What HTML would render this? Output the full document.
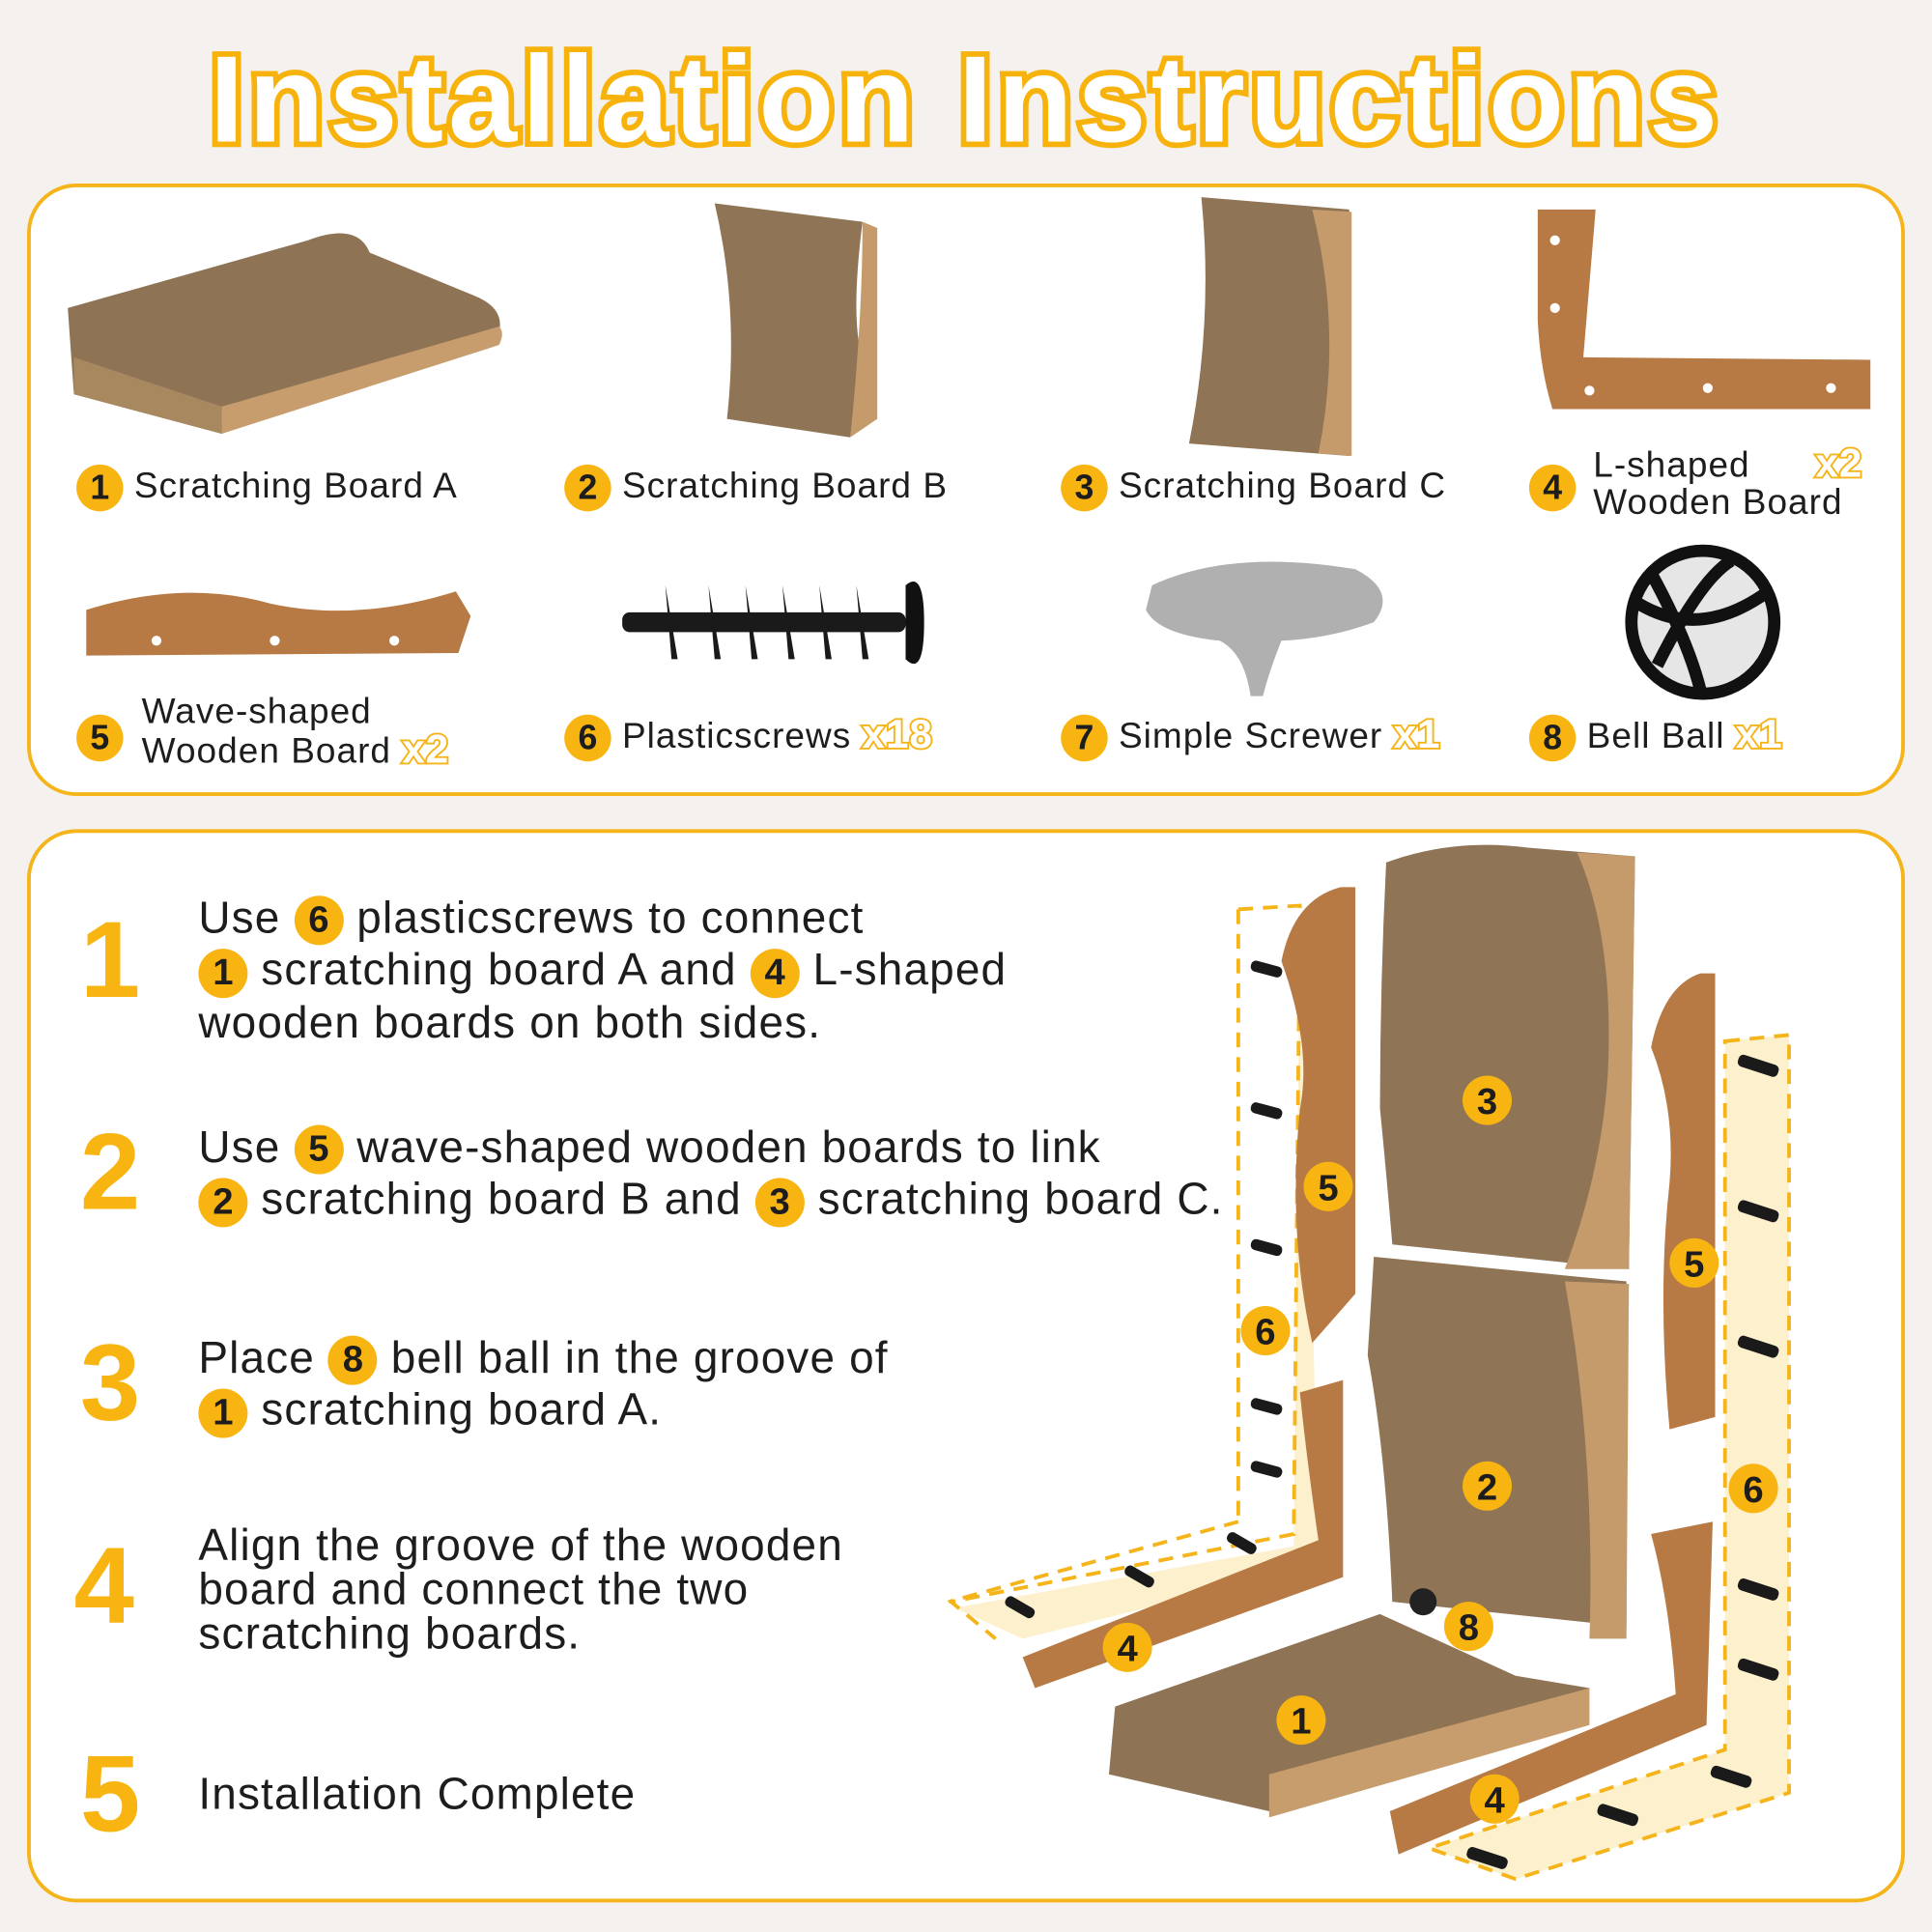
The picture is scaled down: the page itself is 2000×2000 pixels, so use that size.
<!DOCTYPE html>
<html><head><meta charset="utf-8"><style>
html,body{margin:0;padding:0;width:2000px;height:2000px;overflow:hidden;background:#f4f1ee}
#w{position:absolute;left:0;top:0;width:1568px;height:1568px;transform:scale(1.27551);transform-origin:0 0;font-family:"Liberation Sans",sans-serif;color:#1d1d1d}
.title{position:absolute;left:0;width:1568px;top:24px;text-align:center;font-size:100px;font-weight:bold;color:#fff;-webkit-text-stroke:9px #f7b30c;paint-order:stroke fill;letter-spacing:4px}
.panel{position:absolute;background:#fff;border:3px solid #f5b41a;border-radius:40px;box-sizing:border-box}
.b{display:inline-block;width:38px;height:38px;border-radius:50%;background:#f8b512;color:#1d1d1d;font-weight:bold;text-align:center;line-height:38px;font-size:28px;vertical-align:middle;letter-spacing:0}
.lab{position:absolute;font-size:29px;letter-spacing:0.8px;white-space:nowrap;line-height:30px}
.x{color:#fff;-webkit-text-stroke:3px #f5b41a;font-weight:bold;font-size:33px;paint-order:stroke fill}
.num{position:absolute;font-size:88px;font-weight:bold;color:#f8b512;line-height:1}
.st{position:absolute;left:161px;font-size:36px;letter-spacing:0.9px;line-height:40px;white-space:nowrap}
.st .b{width:40px;height:40px;line-height:40px;font-size:30px}
</style></head><body><div id="w">
<div class="title">Installation Instructions</div>
<div class="panel" style="left:22px;top:149px;width:1524px;height:497px"></div>
<div class="panel" style="left:22px;top:673px;width:1524px;height:871px"></div>

<svg style="position:absolute;left:0;top:0" width="1568" height="1568">
<path d="M55 250 L250 195 Q290 180 300 205 L385 240 Q410 250 405 270 L180 352 L60 320 Z" fill="#8e7354"/>
<path d="M60 290 L180 330 L180 352 L60 320 Z" fill="#a7885f"/>
<path d="M180 330 L405 265 Q410 270 405 280 L180 352 Z" fill="#c79d6e"/>
<path d="M580 165 L700 180 Q690 260 700 290 L690 355 L590 340 Q600 250 580 165Z" fill="#8f7556"/>
<path d="M700 180 L712 185 L712 340 L690 355 Q700 260 700 180Z" fill="#c59b6b"/>
<path d="M975 160 L1095 170 L1095 370 L965 360 Q985 260 975 160Z" fill="#8f7556"/>
<path d="M1065 170 L1097 172 L1097 370 L1070 368 Q1090 270 1065 170Z" fill="#c59b6b"/>
<path d="M1248 170 L1295 170 L1285 290 L1518 292 L1518 332 L1260 332 Q1250 300 1248 260Z" fill="#b77a44"/>
<circle cx="1262" cy="195" r="4" fill="#fff"/><circle cx="1262" cy="250" r="4" fill="#fff"/><circle cx="1290" cy="317" r="4" fill="#fff"/><circle cx="1386" cy="315" r="4" fill="#fff"/><circle cx="1486" cy="315" r="4" fill="#fff"/>
<path d="M70 495 Q150 470 220 490 Q290 505 370 480 L382 500 L372 530 L70 532Z" fill="#b77a44"/>
<circle cx="127" cy="520" r="4" fill="#fff"/><circle cx="223" cy="520" r="4" fill="#fff"/><circle cx="320" cy="520" r="4" fill="#fff"/>
<rect x="505" y="497" width="230" height="16" rx="6" fill="#1a1a1a"/>
<g fill="#1a1a1a"><path d="M540 475 L550 535 L545 535 Z"/><path d="M575 475 L585 535 L580 535Z"/><path d="M605 475 L615 535 L610 535Z"/><path d="M635 475 L645 535 L640 535Z"/><path d="M665 475 L675 535 L670 535Z"/><path d="M695 475 L705 535 L700 535Z"/></g>
<path d="M735 475 Q750 462 750 505 Q750 550 735 535 Z" fill="#111"/>
<path d="M935 475 Q1000 445 1100 462 Q1135 480 1115 505 Q1080 518 1040 520 Q1030 545 1025 565 L1015 565 Q1010 530 990 520 Q940 515 930 495 Z" fill="#b0b0b0"/>
<circle cx="1382" cy="505" r="58" fill="#e6e6e6"/>
<circle cx="1382" cy="505" r="58" fill="none" stroke="#111" stroke-width="10"/>
<path d="M1330 490 Q1380 520 1435 480 M1345 540 Q1380 470 1405 455 M1340 465 Q1370 520 1380 560" stroke="#111" stroke-width="10" fill="none"/>

<path d="M1005 738 L1055 735 L1050 1255 L775 1305 L830 1330 L1070 1270 Q1065 1000 1055 735Z" fill="#fdf0cc"/>
<path d="M1005 738 L1055 735 L1050 1245 L772 1300 L808 1330" fill="none" stroke="#f5b41a" stroke-width="3" stroke-dasharray="12 8"/>
<path d="M1005 738 L1005 1235" fill="none" stroke="#f5b41a" stroke-width="3" stroke-dasharray="12 8"/>
<path d="M1005 1235 L770 1300" fill="none" stroke="#f5b41a" stroke-width="3" stroke-dasharray="12 8"/>
<path d="M1400 845 L1452 840 L1452 1455 L1230 1525 L1160 1500 L1400 1420Z" fill="#fdf0cc" stroke="#f5b41a" stroke-width="3" stroke-dasharray="12 8"/>
<path d="M1088 720 L1100 720 L1100 1050 L1065 1090 Q1045 1000 1055 900 Q1065 850 1040 780 Q1050 730 1088 720Z" fill="#b77a44"/>
<path d="M1380 790 L1392 790 L1392 1150 L1355 1160 Q1345 1050 1355 960 Q1360 900 1340 850 Q1350 800 1380 790Z" fill="#b77a44"/>
<path d="M1055 1130 L1090 1120 L1090 1280 L840 1370 L830 1345 L1070 1250 Q1060 1180 1055 1130Z" fill="#b77a44"/>
<path d="M1340 1245 L1390 1235 L1385 1400 L1135 1505 L1128 1470 L1360 1375 Q1355 1300 1340 1245Z" fill="#b77a44"/>
<path d="M1125 700 Q1180 680 1240 688 L1327 695 L1322 1030 L1130 1010 Q1125 950 1120 900 Q1120 800 1125 700Z" fill="#8f7556"/>
<path d="M1280 692 L1327 695 L1322 1030 L1270 1030 Q1300 950 1305 870 Q1310 760 1280 692Z" fill="#c59b6b"/>
<path d="M1115 1020 L1320 1040 L1320 1320 L1130 1300 Q1125 1180 1110 1100 Z" fill="#8f7556"/>
<path d="M1270 1040 L1322 1042 L1320 1330 L1290 1330 Q1295 1180 1270 1040Z" fill="#c59b6b"/>
<path d="M905 1385 L1120 1310 L1230 1360 L1290 1370 L1280 1400 L1030 1470 L900 1440 Z" fill="#8e7354"/>
<path d="M1030 1440 L1290 1370 L1290 1400 L1030 1475Z" fill="#c79d6e"/>
<circle cx="1155" cy="1300" r="11" fill="#222"/>
<g fill="#1a1a1a">
<rect x="1015" y="782" width="26" height="9" rx="4" transform="rotate(15 1028 786)"/>
<rect x="1015" y="897" width="26" height="9" rx="4" transform="rotate(15 1028 901)"/>
<rect x="1015" y="1008" width="26" height="9" rx="4" transform="rotate(15 1028 1012)"/>
<rect x="1015" y="1137" width="26" height="9" rx="4" transform="rotate(15 1028 1141)"/>
<rect x="1015" y="1188" width="26" height="9" rx="4" transform="rotate(15 1028 1192)"/>
<rect x="995" y="1248" width="26" height="9" rx="4" transform="rotate(30 1008 1252)"/>
<rect x="912" y="1275" width="26" height="9" rx="4" transform="rotate(30 925 1279)"/>
<rect x="815" y="1300" width="26" height="9" rx="4" transform="rotate(30 828 1304)"/>
<rect x="1410" y="860" width="34" height="10" rx="4" transform="rotate(18 1427 865)"/>
<rect x="1410" y="978" width="34" height="10" rx="4" transform="rotate(18 1427 983)"/>
<rect x="1410" y="1088" width="34" height="10" rx="4" transform="rotate(18 1427 1093)"/>
<rect x="1410" y="1285" width="34" height="10" rx="4" transform="rotate(18 1427 1290)"/>
<rect x="1410" y="1350" width="34" height="10" rx="4" transform="rotate(18 1427 1355)"/>
<rect x="1388" y="1437" width="34" height="10" rx="4" transform="rotate(18 1405 1442)"/>
<rect x="1296" y="1468" width="34" height="10" rx="4" transform="rotate(18 1313 1473)"/>
<rect x="1190" y="1503" width="34" height="10" rx="4" transform="rotate(18 1207 1508)"/>
</g>
<g font-family="Liberation Sans" font-weight="bold" font-size="30" text-anchor="middle" fill="#1d1d1d">
<circle cx="1207" cy="893" r="20" fill="#f8b512"/><text x="1207" y="904">3</text>
<circle cx="1078" cy="963" r="20" fill="#f8b512"/><text x="1078" y="974">5</text>
<circle cx="1375" cy="1025" r="20" fill="#f8b512"/><text x="1375" y="1036">5</text>
<circle cx="1027" cy="1080" r="20" fill="#f8b512"/><text x="1027" y="1091">6</text>
<circle cx="1207" cy="1206" r="20" fill="#f8b512"/><text x="1207" y="1217">2</text>
<circle cx="1423" cy="1208" r="20" fill="#f8b512"/><text x="1423" y="1219">6</text>
<circle cx="1192" cy="1320" r="20" fill="#f8b512"/><text x="1192" y="1331">8</text>
<circle cx="915" cy="1337" r="20" fill="#f8b512"/><text x="915" y="1348">4</text>
<circle cx="1056" cy="1396" r="20" fill="#f8b512"/><text x="1056" y="1407">1</text>
<circle cx="1213" cy="1460" r="20" fill="#f8b512"/><text x="1213" y="1471">4</text>
</g>
</svg>

<div class="lab" style="left:62px;top:377px"><span class="b">1</span> Scratching Board A</div>
<div class="lab" style="left:458px;top:377px"><span class="b">2</span> Scratching Board B</div>
<div class="lab" style="left:861px;top:377px"><span class="b">3</span> Scratching Board C</div>
<div class="lab" style="left:1241px;top:377px"><span class="b">4</span></div>
<div class="lab" style="left:1293px;top:361px;line-height:30px">L-shaped &nbsp;&nbsp;&nbsp;&nbsp;&nbsp;<span class="x">x2</span><br>Wooden Board</div>
<div class="lab" style="left:62px;top:580px"><span class="b">5</span></div>
<div class="lab" style="left:115px;top:563px;line-height:30px">Wave-shaped<br>Wooden Board <span class="x">x2</span></div>
<div class="lab" style="left:458px;top:580px"><span class="b">6</span> Plasticscrews <span class="x">x18</span></div>
<div class="lab" style="left:861px;top:580px"><span class="b">7</span> Simple Screwer <span class="x">x1</span></div>
<div class="lab" style="left:1241px;top:580px"><span class="b">8</span> Bell Ball <span class="x">x1</span></div>

<div class="num" style="left:65px;top:735px">1</div>
<div class="num" style="left:65px;top:907px">2</div>
<div class="num" style="left:65px;top:1078px">3</div>
<div class="num" style="left:60px;top:1243px">4</div>
<div class="num" style="left:65px;top:1412px">5</div>

<div class="st" style="top:725px">Use <span class="b">6</span> plasticscrews to connect<br><span class="b">1</span> scratching board A and <span class="b">4</span> L-shaped<br>wooden boards on both sides.</div>
<div class="st" style="top:911px">Use <span class="b">5</span> wave-shaped wooden boards to link<br><span class="b">2</span> scratching board B and <span class="b">3</span> scratching board C.</div>
<div class="st" style="top:1082px">Place <span class="b">8</span> bell ball in the groove of<br><span class="b">1</span> scratching board A.</div>
<div class="st" style="top:1236px;line-height:36px">Align the groove of the wooden<br>board and connect the two<br>scratching boards.</div>
<div class="st" style="top:1436px">Installation Complete</div>
</div></body></html>
